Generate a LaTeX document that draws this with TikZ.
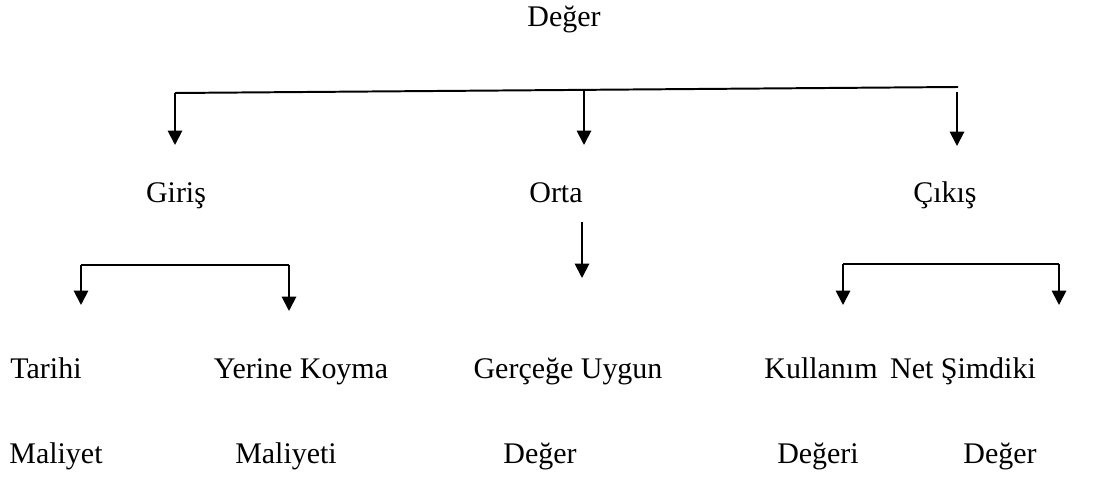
\documentclass[tikz,border=0pt]{standalone}
\usepackage{fontspec}
\setmainfont{Liberation Serif}
\usetikzlibrary{arrows.meta,positioning}

\begin{document}
\begin{tikzpicture}[x=0.025cm,y=-0.025cm,
        every node/.style={font=\fontsize{21.3}{25}\selectfont,anchor=base,inner sep=0pt},
        bar/.style={line width=1.4pt},
        down/.style={line width=1.4pt,-{Triangle[length=0.36cm,width=0.36cm]}}]
    \useasboundingbox (0,0) rectangle (1109,477);

    % labels
    \node (deger) at (564,27) {Değer};
    \node (giris) at (176,203) {Giriş};
    \node (orta) at (556,203) {Orta};
    \node (cikis) at (945,203) {Çıkış};
    \node (tarihi) at (46,378) {Tarihi};
    \node (yerine) at (301,378) {Yerine Koyma};
    \node (gercege) at (568,378) {Gerçeğe Uygun};
    \node (kullanim) at (821,378) {Kullanım};
    \node (net) at (963,378) {Net Şimdiki};
    \node (maliyet) at (56,463) {Maliyet};
    \node (maliyeti) at (286,463) {Maliyeti};
    \node (deger2) at (540,463) {Değer};
    \node (degeri) at (818,463) {Değeri};
    \node (deger3) at (1000,463) {Değer};

    % bar under Değer
    \coordinate (t1) at (175,93);
    \coordinate (t2) at (958,87);
    \coordinate (t3) at (584,91);
    \coordinate (t4) at (957,92);
    \draw[bar] (t1) -- (t2);
    \draw[down] (t1) -- (175,145);
    \draw[down] (t3) -- (584,145);
    \draw[down] (t4) -- (957,146);

    % Orta
    \coordinate (o1) at (582,222);
    \draw[down] (o1) -- (582,278);

    % Giriş
    \coordinate (g1) at (81,265);
    \coordinate (g2) at (289,265);
    \draw[bar] (g1) -- (g2);
    \draw[down] (g1) -- (81,305);
    \draw[down] (g2) -- (289,311);

    % Çıkış
    \coordinate (c1) at (843,264);
    \coordinate (c2) at (1059,264);
    \draw[bar] (c1) -- (c2);
    \draw[down] (c1) -- (843,305);
    \draw[down] (c2) -- (1059,305);
\end{tikzpicture}
\end{document}
